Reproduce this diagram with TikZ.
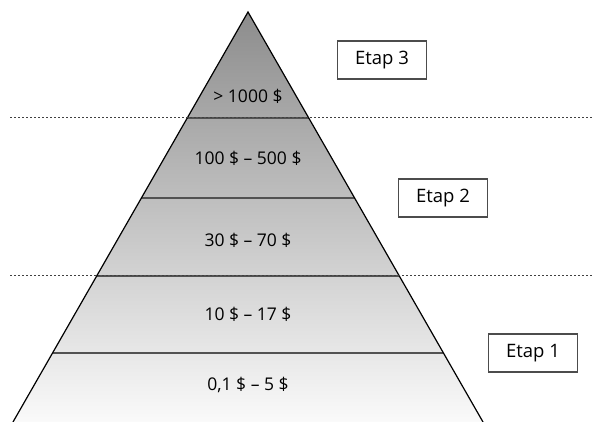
\documentclass[tikz,border=0pt]{standalone}
\usepackage{fontspec}
\setmainfont{Open Sans}
\usetikzlibrary{calc}

\begin{document}
\begin{tikzpicture}[x=1pt, y=-1pt,
                    etap/.style = {draw=black!70, line width=1.2pt, minimum width=89pt,
                                   minimum height=38pt, font=\fontsize{18.5}{22}\selectfont},
                    price/.style = {font=\fontsize{17.5}{21}\selectfont},
                    layer/.style = {draw=black!68, line width=1.6pt},
                    border/.style = {dash pattern=on 2pt off 2pt, line width=1pt, draw=black!75}]
    \useasboundingbox (0,0) rectangle (592,422);
    \coordinate (apex) at (248,12);
    \coordinate (bl) at (13,422);
    \coordinate (br) at (483,422);

    % pyramid
    \shade[top color=black!45, bottom color=black!2] (apex) -- (bl) -- (br) -- cycle;
    \foreach \n/\y in {a/118, b/198, c/276, d/353} {
        \coordinate (l\n) at ($(apex)!{(\y-12)/410}!(bl)$);
        \coordinate (r\n) at ($(apex)!{(\y-12)/410}!(br)$);
        \draw[layer] (l\n) -- (r\n);
    }
    \draw[line width=1.2pt] (bl) -- (apex) -- (br);

    % stage borders
    \coordinate (sa) at (10,118);
    \coordinate (ea) at (592,118);
    \coordinate (sc) at (10,276);
    \coordinate (ec) at (592,276);
    \draw[border] (sa) -- (ea);
    \draw[border] (sc) -- (ec);

    \node[price] (p5) at (248,96) {> 1000 \$};
    \node[price] (p4) at (248,158) {100 \$ – 500 \$};
    \node[price] (p3) at (248,240) {30 \$ – 70 \$};
    \node[price] (p2) at (248,314) {10 \$ – 17 \$};
    \node[price] (p1) at (248,385) {0,1 \$ – 5 \$};

    \node[etap] (e3) at (382,60) {Etap 3};
    \node[etap] (e2) at (443,198) {Etap 2};
    \node[etap] (e1) at (533,353) {Etap 1};
\end{tikzpicture}
\end{document}
